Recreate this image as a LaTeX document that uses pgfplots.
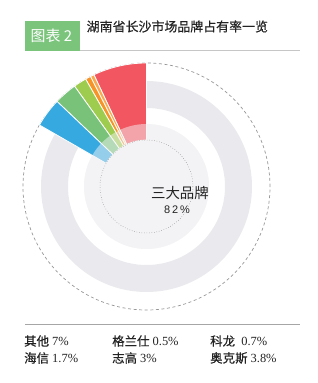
\documentclass[border=0pt]{standalone}
\usepackage{pgfplots}
\usepackage{pgfplotstable}
\pgfplotsset{compat=1.18}
\usepackage{fontspec}
\setmainfont{Liberation Serif}
\newfontfamily\cjk{Noto Sans CJK SC}
\newfontfamily\cjkb{Noto Sans CJK SC}[FakeBold=0.5]
\newfontfamily\cjkl{Noto Sans CJK SC}[FakeBold=0.3]
\newfontfamily\sans{Liberation Sans}
\definecolor{cRed}{RGB}{242,86,96}
\definecolor{cOrA}{RGB}{249,170,80}
\definecolor{cOrB}{RGB}{246,148,40}
\definecolor{cYG}{RGB}{158,204,78}
\definecolor{cGreen}{RGB}{120,194,122}
\definecolor{cBlue}{RGB}{54,169,225}
\definecolor{ringgray}{RGB}{234,234,238}
\definecolor{diskgray}{RGB}{243,243,245}
\definecolor{dashgray}{RGB}{150,150,150}
\definecolor{boxgreen}{RGB}{122,196,124}
\definecolor{txt}{RGB}{35,35,35}

\pgfplotstableread[col sep=comma]{
brand,share,col
其他,7,cRed
格兰仕,0.5,cOrA
科龙,0.7,cOrB
海信,1.7,cYG
志高,3,cGreen
奥克斯,3.8,cBlue
}\shares

\begin{document}
\begin{tikzpicture}
\begin{axis}[
  x=1bp, y=1bp,
  xmin=0, xmax=318, ymin=0, ymax=383,
  hide axis, clip=false,
]
\pgfplotsextra{
  \path (axis cs:0,0) rectangle (axis cs:318,383);
  \coordinate (C) at (axis cs:146.5,196.5);
  % decorations
  \fill[ringgray, even odd rule] (C) circle[radius=105.5bp] (C) circle[radius=78.5bp];
  \fill[diskgray] (C) circle[radius=62.5bp];
  \draw[dashgray, line width=0.7pt, dash pattern=on 3pt off 2.6pt] (C) circle[radius=123.5bp];
  % wedges from data
  \gdef\startang{90}
  \pgfplotstableforeachcolumnelement{share}\of\shares\as\val{%
    \pgfplotstablegetelem{\pgfplotstablerow}{col}\of\shares
    \let\mycol\pgfplotsretval
    \pgfmathsetmacro\endang{\startang+3.6*\val}
    \fill[fill=\mycol, draw=white, line width=0.8pt]
      ([shift={(\startang:46.5bp)}]C) arc[start angle=\startang, end angle=\endang, radius=46.5bp]
      -- ([shift={(\endang:123.5bp)}]C) arc[start angle=\endang, end angle=\startang, radius=123.5bp]
      -- cycle;
    \xdef\startang{\endang}
  }
  \fill[diskgray, opacity=0.5] (C) circle[radius=62.5bp];
  \fill[diskgray] (C) circle[radius=46.5bp];
  \draw[gray, line width=0.5pt, dotted] (C) circle[radius=46.5bp];
  % centre text
  \node[txt, font=\cjk\fontsize{14.5}{16}\selectfont] at (axis cs:180,190) {三大品牌};
  \node[txt, font=\sans\fontsize{11}{13}\selectfont] at (axis cs:177,173) {8\,2\,\%};
  % title
  \fill[boxgreen] (axis cs:25,332) rectangle (axis cs:80,362);
  \node[white, font=\cjk\fontsize{15}{17}\selectfont] at (axis cs:51.5,347) {图表 2};
  \draw[gray!45, line width=0.8pt] (axis cs:80,332.6) -- (axis cs:300,332.6);
  \node[txt, anchor=west, inner sep=0pt, font=\cjkb\fontsize{13}{14}\selectfont] at (axis cs:86.5,356.5) {湖南省长沙市场品牌占有率一览};
  % bottom legend
  \draw[gray!70, line width=0.6pt] (axis cs:25,59) -- (axis cs:300,59);
  \begin{scope}[every node/.style={anchor=west, inner sep=0pt, txt, font=\fontsize{12.5}{13}\selectfont}]
    \node at (axis cs:24,42) {{\cjkl 其他} 7\%};
    \node at (axis cs:112,42) {{\cjkl 格兰仕} 0.5\%};
    \node at (axis cs:210,42) {{\cjkl 科龙}\ \ 0.7\%};
    \node at (axis cs:24,25) {{\cjkl 海信} 1.7\%};
    \node at (axis cs:112,25) {{\cjkl 志高} 3\%};
    \node at (axis cs:210,25) {{\cjkl 奥克斯} 3.8\%};
  \end{scope}
}
\end{axis}
\end{tikzpicture}
\end{document}
